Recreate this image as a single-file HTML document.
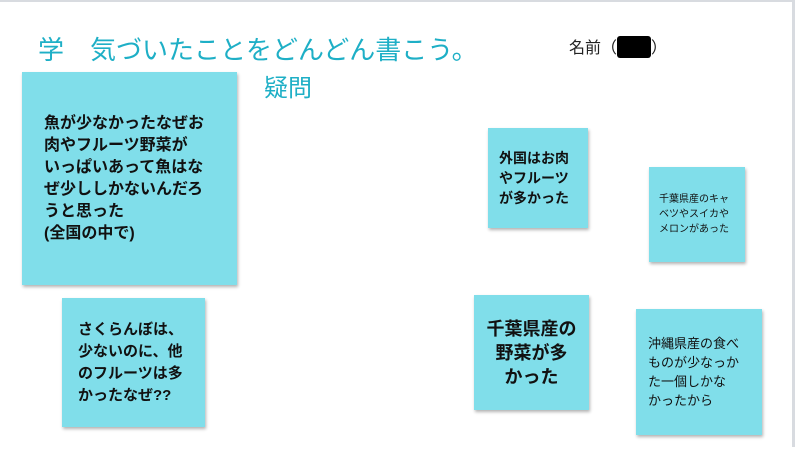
<!DOCTYPE html>
<html><head><meta charset="utf-8"><style>
body{margin:0;width:800px;height:449px;background:#fff;position:relative;overflow:hidden;font-family:"Liberation Sans","Noto Sans CJK JP",sans-serif}
.frame{position:absolute;left:0;top:0;width:795px;height:447px;border-top:2px solid #d8dbe0;border-right:3px solid #d8dbe0;box-sizing:border-box}
.t{position:absolute;color:#1eafc6;white-space:nowrap}
.s{position:absolute;background:#80deea;box-shadow:1px 2px 3px rgba(0,0,0,.3);box-sizing:border-box;color:#111;font-weight:bold;display:flex;align-items:center}
</style></head><body>
<div class="frame"></div>
<div class="t" style="left:38px;top:30px;font-size:26px;">学　気づいたことをどんどん書こう。</div>
<div class="t" style="left:264px;top:68px;font-size:24px;">疑問</div>
<div style="position:absolute;left:569px;top:34px;font-size:16px;color:#222">名前（<span style="display:inline-block;width:34px;height:22px;background:#000;vertical-align:-5px;border-radius:3px"></span>）</div>
<div class="s" style="left:22px;top:72px;width:215px;height:213px;padding-left:22px;font-size:16px;line-height:22px">魚が少なかったなぜお<br>肉やフルーツ野菜が<br>いっぱいあって魚はな<br>ぜ少ししかないんだろ<br>うと思った<br>(全国の中で)</div>
<div class="s" style="left:62px;top:298px;width:143px;height:129px;padding-left:16px;font-size:15px;line-height:22px">さくらんぼは、<br>少ないのに、他<br>のフルーツは多<br>かったなぜ??</div>
<div class="s" style="left:488px;top:128px;width:100px;height:100px;padding-left:11px;font-size:14px;line-height:20px">外国はお肉<br>やフルーツ<br>が多かった</div>
<div class="s" style="left:649px;top:167px;width:96px;height:95px;padding-left:10px;font-size:10px;line-height:15px;font-weight:normal">千葉県産のキャ<br>ベツやスイカや<br>メロンがあった</div>
<div class="s" style="left:474px;top:295px;width:115px;height:115px;font-size:18px;line-height:24px;justify-content:center;text-align:center">千葉県産の<br>野菜が多<br>かった</div>
<div class="s" style="left:636px;top:309px;width:126px;height:126px;padding-left:12px;font-size:13px;line-height:19px;font-weight:normal">沖縄県産の食べ<br>ものが少なっか<br>た一個しかな<br>かったから</div>
</body></html>
